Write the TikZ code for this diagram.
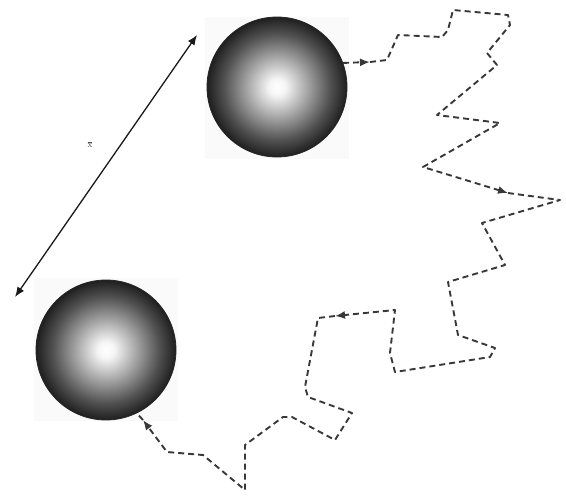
\documentclass[tikz,border=0pt]{standalone}
\usetikzlibrary{arrows.meta}
\pgfdeclareradialshading{spheresh}{\pgfpoint{0bp}{0bp}}{%
  color(0bp)=(white); color(3bp)=(white!96!black); color(11bp)=(black!36);
  color(19bp)=(black!68); color(25bp)=(black!88); color(50bp)=(black!88)}
\begin{document}
\begin{tikzpicture}[x=1pt,y=-1pt,
  sphere/.style={circle,minimum size=140pt,inner sep=0pt,shading=spheresh,draw=black!85,line width=0.8pt},
  bgbox/.style={fill=black!2,draw=none},
  walk/.style={draw=black!78,line width=1.9pt,dash pattern=on 6pt off 4pt,line join=round},
  walktip/.style={walk,-{Latex[length=10pt,width=8pt]}},
  dist/.style={draw=black!90,line width=1.3pt,{Latex[length=10pt,width=8pt]}-{Latex[length=10pt,width=8pt]}}]
\useasboundingbox (0,0) rectangle (566,496);
\fill[bgbox] (205,17) rectangle (349,159);
\fill[bgbox] (34,278) rectangle (178,421);
\node[sphere] (A) at (277,87) {};
\node[sphere] (B) at (106,350) {};
\coordinate (p) at (15,297);
\coordinate (q) at (197,35);
\draw[dist] (p) -- (q);
\node[font=\small,text=black!70] (xl) at (90,145) {$\overline{\mathrm{x}}$};
% random walk
\coordinate (w1) at (370,62);
\coordinate (w2) at (508,193);
\coordinate (w3) at (335,316);
\coordinate (w4) at (143,420);
\draw[walktip] (A.20) -- (w1);
\draw[walktip] (w1) -- (387,60) -- (398,35) -- (442,37) -- (448,30) -- (453,10) -- (508,15) -- (510,25)
  -- (487,53) -- (497,65) -- (437,115) -- (500,123) -- (423,167) -- (w2);
\draw[walktip] (w2) -- (560,200) -- (482,223) -- (505,265) -- (448,282) -- (458,335) -- (495,348)
  -- (490,357) -- (395,372) -- (390,353) -- (395,310) -- (w3);
\draw[walktip] (w3) -- (318,318) -- (305,387) -- (308,397) -- (352,413) -- (335,440) -- (292,417)
  -- (283,417) -- (245,445) -- (245,490) -- (203,455) -- (167,452) -- (w4);
\draw[walk] (w4) -- (B.-64);
\end{tikzpicture}
\end{document}
